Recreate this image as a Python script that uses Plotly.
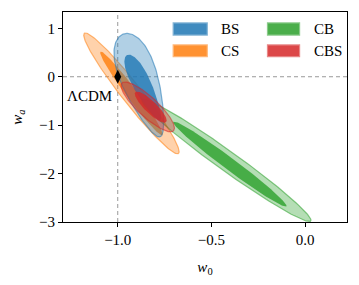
import numpy as np
import plotly.graph_objects as go

# ---- data: contour ellipses (68% inner, 95% outer) in (w0, wa) ----
names = ["CS", "CB", "BS", "CBS"]
colors = {"BS": (31, 119, 180), "CS": (255, 127, 14), "CB": (44, 160, 44), "CBS": (214, 39, 40)}

# outer (95%) contours: centre, major half-vector, minor half-width (w0 units), taper
outer_c_w0 = [-0.927, -0.420, -0.872, -0.840]
outer_c_wa = [-0.344, -1.730, -0.180, -0.622]
outer_a_w0 = [0.251, 0.450, 0.098, 0.138]
outer_a_wa = [-1.242, -1.250, -1.062, -0.492]
outer_b = [0.053, 0.053, 0.095, 0.053]
outer_taper = [0.0, 0.0, -0.35, 0.0]

# inner (68%) contours
inner_c_w0 = [-0.927, -0.402, -0.862, -0.824]
inner_c_wa = [-0.344, -1.804, -0.224, -0.627]
inner_a_w0 = [0.165, 0.302, 0.088, 0.082]
inner_a_wa = [-0.861, -0.873, -0.673, -0.310]
inner_b = [0.029, 0.032, 0.047, 0.032]
inner_taper = [0.0, 0.0, -0.3, 0.0]

lcdm_w0 = [-1.0]
lcdm_wa = [0.0]

legend_order = ["BS", "CS", "CB", "CBS"]

x_ticks = [-1.0, -0.5, 0.0]
y_ticks = [1, 0, -1, -2, -3]

ASPECT = 188 / 48.3  # display px per unit ratio x/y


def ellipse(cw0, cwa, aw0, awa, b, taper, n=200):
    t = np.linspace(0, 2 * np.pi, n)
    ad = np.array([aw0, awa / ASPECT])
    perp = np.array([-ad[1], ad[0]]) / np.hypot(*ad)
    bd = perp * b
    B = np.array([bd[0], bd[1] * ASPECT])
    fac = 1 + taper * np.cos(t)
    x = cw0 + np.cos(t) * aw0 + np.sin(t) * B[0] * fac
    y = cwa + np.cos(t) * awa + np.sin(t) * B[1] * fac
    return x, y


def rgba(c, a):
    return f"rgba({c[0]},{c[1]},{c[2]},{a})"


fig = go.Figure()
for i, nm in enumerate(names):
    c = colors[nm]
    x, y = ellipse(outer_c_w0[i], outer_c_wa[i], outer_a_w0[i], outer_a_wa[i], outer_b[i], outer_taper[i])
    fig.add_trace(go.Scatter(x=x, y=y, mode="lines", fill="toself", fillcolor=rgba(c, 0.35),
                             line=dict(color=rgba(c, 0.55), width=1.2), showlegend=False, hoverinfo="skip"))
    x, y = ellipse(inner_c_w0[i], inner_c_wa[i], inner_a_w0[i], inner_a_wa[i], inner_b[i], inner_taper[i])
    fig.add_trace(go.Scatter(x=x, y=y, mode="lines", fill="toself", fillcolor=rgba(c, 0.8),
                             line=dict(color=rgba(c, 0.0), width=0), showlegend=False, hoverinfo="skip"))

fig.add_trace(go.Scatter(x=lcdm_w0, y=lcdm_wa, mode="markers",
                         marker=dict(symbol="diamond-tall", size=10, color="black"),
                         showlegend=False, hoverinfo="skip"))

FONT = "Liberation Serif, Times New Roman, DejaVu Serif, serif"

shapes = [
    dict(type="line", xref="x", yref="paper", x0=-1, x1=-1, y0=0, y1=1,
         line=dict(color="#999999", width=1, dash="4px,3px"), layer="below"),
    dict(type="line", xref="paper", yref="y", x0=0, x1=1, y0=0, y1=0,
         line=dict(color="#999999", width=1, dash="4px,3px"), layer="below"),
]
annotations = [
    dict(x=-1.0, y=-0.4, xref="x", yref="y", text="ΛCDM", showarrow=False,
         xanchor="right", yanchor="middle", xshift=-4, font=dict(family=FONT, size=15, color="black")),
]
# manual legend
leg_x = [(0.388, 0.508), (0.388, 0.508), (0.720, 0.833), (0.720, 0.833)]
leg_y = [(0.890, 0.948), (0.787, 0.843), (0.890, 0.948), (0.787, 0.843)]
lab_x = [0.548, 0.548, 0.877, 0.877]
for k, nm in enumerate(legend_order):
    c = colors[nm]
    light = tuple(int(255 - 0.55 * (255 - v)) for v in c)
    shapes.append(dict(type="rect", xref="paper", yref="paper",
                       x0=leg_x[k][0], x1=leg_x[k][1], y0=leg_y[k][0], y1=leg_y[k][1],
                       fillcolor=rgba(c, 0.85), line=dict(color=rgba(light, 1), width=1.2)))
    annotations.append(dict(x=lab_x[k], y=(leg_y[k][0] + leg_y[k][1]) / 2, xref="paper", yref="paper",
                            text=nm, showarrow=False, xanchor="left", yanchor="middle",
                            font=dict(family=FONT, size=15, color="black")))

fig.update_layout(
    width=359, height=285,
    margin=dict(l=63, r=12, t=12, b=63),
    plot_bgcolor="white", paper_bgcolor="white",
    font=dict(family=FONT, size=15, color="black"),
    shapes=shapes, annotations=annotations,
    xaxis=dict(range=[-1.292, 0.223], tickvals=x_ticks, tickformat=".1f", automargin=False,
               showgrid=False, zeroline=False, showline=True, linecolor="black", linewidth=1,
               mirror=True, ticks="outside", ticklen=4, tickcolor="black",
               tickfont=dict(family=FONT, size=15),
               title=dict(text="<i>w</i><sub>0</sub>", font=dict(family=FONT, size=15), standoff=14)),
    yaxis=dict(range=[-3, 1.337], tickvals=y_ticks, automargin=False,
               showgrid=False, zeroline=False, showline=True, linecolor="black", linewidth=1,
               mirror=True, ticks="outside", ticklen=4, tickcolor="black",
               tickfont=dict(family=FONT, size=15),
               title=dict(text="<i>w</i><sub><i>a</i></sub>", font=dict(family=FONT, size=15), standoff=12)),
)

fig.write_html("out.html", config={"displayModeBar": False},
               post_script="document.body.style.margin='0';document.body.style.padding='0';")
